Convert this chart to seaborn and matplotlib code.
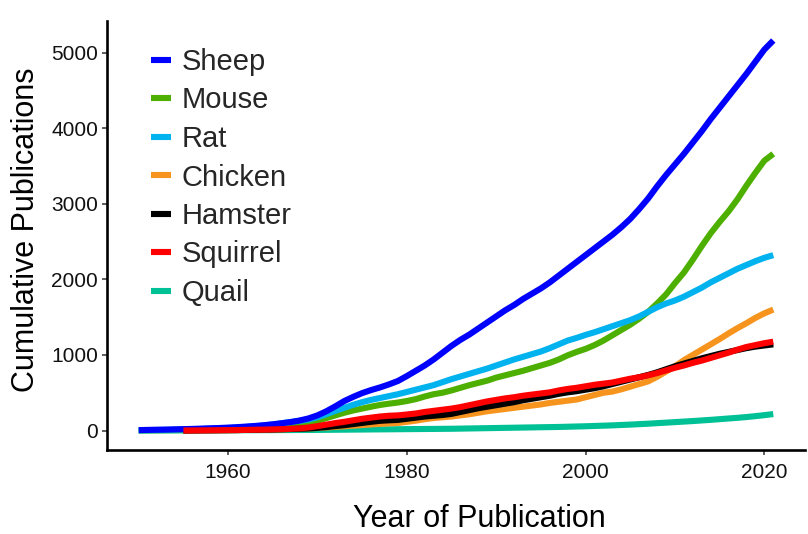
import numpy as np
import pandas as pd
import matplotlib
matplotlib.use("Agg")
import matplotlib.pyplot as plt
from matplotlib.lines import Line2D
import seaborn as sns

# Cumulative publication counts per species, by year
years_1950 = list(range(1950, 2022))
years_1955 = list(range(1955, 2022))

sheep = [5, 8, 10, 12, 15, 18, 21, 25, 29, 33,
         38, 44, 52, 60, 70, 82, 96, 112, 132, 160,
         200, 255, 320, 390, 445, 495, 535, 570, 610, 655,
         720, 790, 860, 940, 1030, 1120, 1200, 1270, 1350, 1430,
         1510, 1590, 1660, 1740, 1810, 1880, 1960, 2050, 2140, 2230,
         2320, 2410, 2500, 2590, 2690, 2800, 2930, 3070, 3230, 3380,
         3520, 3660, 3810, 3960, 4120, 4270, 4420, 4570, 4720, 4880,
         5040, 5160]

mouse = [2, 3, 4, 5, 6, 8, 10, 12, 14, 16,
         18, 21, 24, 28, 33, 40, 50, 62, 78, 98,
         130, 165, 200, 235, 265, 290, 315, 338, 355, 370,
         390, 415, 450, 480, 500, 530, 565, 600, 630, 660,
         700, 730, 760, 790, 825, 860, 895, 940, 995, 1040,
         1080, 1130, 1190, 1260, 1330, 1400, 1480, 1570, 1680, 1800,
         1950, 2090, 2260, 2440, 2610, 2760, 2900, 3060, 3240, 3410,
         3570, 3660]

rat = [3, 5, 7, 9, 11, 14, 17, 20, 24, 28,
       33, 39, 46, 55, 66, 80, 96, 112, 128, 145,
       175, 215, 260, 300, 340, 375, 405, 430, 455, 480,
       510, 540, 570, 600, 640, 680, 715, 750, 785, 820,
       860, 900, 940, 975, 1010, 1045, 1090, 1140, 1190, 1225,
       1265, 1300, 1340, 1380, 1420, 1460, 1510, 1570, 1630, 1680,
       1720, 1770, 1830, 1890, 1960, 2020, 2080, 2140, 2190, 2240,
       2285, 2320]

chicken = [0, 1, 2, 3, 4,
           5, 6, 8, 10, 12, 14, 17, 20, 24, 28,
           33, 40, 48, 56, 64, 72, 80, 88, 94, 100,
           115, 130, 150, 165, 175, 185, 200, 215, 235, 255,
           270, 285, 300, 315, 330, 345, 365, 380, 395, 410,
           440, 470, 500, 515, 545, 580, 615, 650, 710, 780,
           850, 930, 1000, 1070, 1140, 1210, 1285, 1355, 1420, 1490,
           1550, 1600]

hamster = [0, 1, 2, 3, 4,
           5, 6, 8, 10, 12, 14, 17, 20, 23, 27,
           35, 45, 58, 70, 85, 100, 115, 128, 135, 140,
           155, 170, 185, 195, 205, 220, 245, 270, 295, 315,
           335, 355, 375, 400, 420, 440, 460, 485, 505, 520,
           540, 560, 585, 615, 645, 675, 705, 735, 770, 810,
           850, 885, 920, 955, 985, 1015, 1040, 1065, 1090, 1110,
           1125, 1140]

squirrel = [0, 1, 2, 3, 4,
            5, 6, 8, 10, 12, 15, 18, 22, 28, 40,
            58, 78, 98, 115, 135, 155, 170, 185, 195, 200,
            212, 225, 245, 260, 275, 290, 310, 335, 360, 385,
            405, 425, 440, 460, 475, 490, 505, 530, 550, 565,
            585, 605, 620, 635, 660, 685, 705, 730, 760, 795,
            830, 860, 895, 925, 960, 995, 1030, 1070, 1105, 1130,
            1155, 1175]

quail = [0, 0, 0, 1, 1, 1, 1, 2, 2, 2,
         3, 3, 4, 4, 5, 5, 6, 6, 7, 7,
         8, 9, 10, 11, 12, 13, 14, 15, 16, 17,
         18, 19, 20, 21, 22, 23, 25, 27, 29, 31,
         33, 35, 37, 39, 41, 43, 45, 47, 50, 53,
         56, 60, 64, 68, 73, 78, 84, 90, 97, 104,
         111, 118, 125, 133, 141, 150, 159, 168, 178, 190,
         203, 217]

species = ["Sheep", "Mouse", "Rat", "Chicken", "Hamster", "Squirrel", "Quail"]
colors = ["#0000FF", "#4DAF00", "#00B2EE", "#F7941D", "#000000", "#FF0000", "#00C095"]
series = {
    "Sheep": (years_1950, sheep),
    "Mouse": (years_1950, mouse),
    "Rat": (years_1950, rat),
    "Chicken": (years_1955, chicken),
    "Hamster": (years_1955, hamster),
    "Squirrel": (years_1955, squirrel),
    "Quail": (years_1950, quail),
}

frames = []
for name in species:
    yrs, vals = series[name]
    frames.append(pd.DataFrame({"Year": yrs, "Count": vals, "Species": name}))
df = pd.concat(frames, ignore_index=True)

sns.set_theme(style="white")
plt.rcParams["font.family"] = ["Liberation Sans", "DejaVu Sans"]

fig = plt.figure(figsize=(8.08, 5.34), dpi=100)
ax = fig.add_axes([107 / 808, 84 / 534, 698 / 808, 429 / 534])

palette = dict(zip(species, colors))
sns.lineplot(data=df, x="Year", y="Count", hue="Species", hue_order=species,
             palette=palette, linewidth=4.4, ax=ax, legend=False,
             estimator=None, sort=True)

# stacking of the lines
layer = {"Quail": 2, "Chicken": 3, "Mouse": 4, "Rat": 5, "Hamster": 6,
         "Sheep": 7, "Squirrel": 8}
for line, name in zip(ax.lines, species):
    line.set_zorder(layer[name])
    line.set_solid_capstyle("butt")

ax.set_xlim(1946.45, 2024.55)
ax.set_ylim(-258, 5418)
ax.set_xticks([1960, 1980, 2000, 2020])
ax.set_yticks([0, 1000, 2000, 3000, 4000, 5000])

for side in ["top", "right"]:
    ax.spines[side].set_visible(False)
for side in ["left", "bottom"]:
    ax.spines[side].set_color("black")
    ax.spines[side].set_linewidth(1.9)

ax.tick_params(axis="both", which="major", length=3.5, width=1.1,
               color="#333333", labelsize=15, labelcolor="#111111",
               left=True, bottom=True)
ax.tick_params(axis="x", pad=6)
ax.tick_params(axis="y", pad=3)

ax.set_xlabel("Year of Publication", fontsize=22, color="black")
ax.set_ylabel("Cumulative Publications", fontsize=22, color="black")
ax.xaxis.set_label_coords(0.533, -0.127)
ax.yaxis.set_label_coords(-0.095, 0.513)

handles = [Line2D([0], [0], color=c, lw=4.4, solid_capstyle="butt") for c in colors]
leg = ax.legend(handles, species, loc="upper left",
                bbox_to_anchor=(151 / 808, 1 - 48 / 534),
                bbox_transform=fig.transFigure, frameon=False,
                fontsize=21, handlelength=0.7, handletextpad=0.36,
                labelspacing=0.36, borderpad=0, borderaxespad=0)

fig.savefig("out.png", dpi=100, facecolor="white")
